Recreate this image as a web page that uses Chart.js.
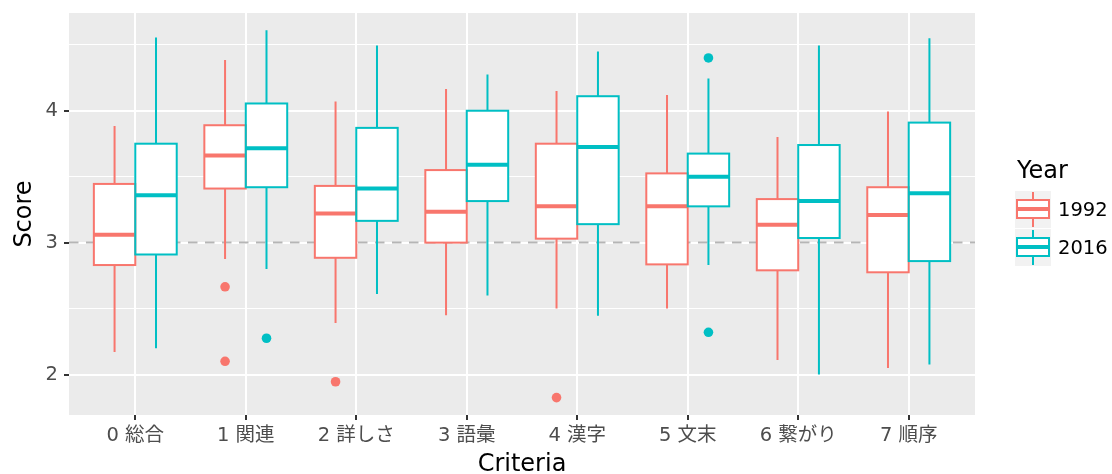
<!DOCTYPE html>
<html><head><meta charset="utf-8">
<script src="https://cdn.jsdelivr.net/npm/chart.js@4/dist/chart.umd.min.js"></script>
<style>
html,body{margin:0;padding:0;background:#fff;overflow:hidden;}
#wrap{position:relative;width:1112px;height:474px;}
canvas{position:absolute;left:0;top:0;}
.lg{position:absolute;font-family:"DejaVu Sans","Noto Sans CJK JP",sans-serif;color:#000;white-space:nowrap;}
.key{position:absolute;width:36px;height:37px;background:#F2F2F2;}
.key .wh{position:absolute;left:17px;top:1px;width:2px;height:35px;}
.key .bx{position:absolute;left:1px;top:8px;width:34px;height:20px;box-sizing:border-box;border:2px solid;background:#fff;}
.key .md{position:absolute;left:1px;top:16px;width:34px;height:4px;}
</style></head>
<body><div id="wrap"><canvas id="c" width="1112" height="474"></canvas>
<div class="lg" style="left:1017px;top:156px;font-size:24px;line-height:28px;">Year</div>
</div>
<script>
// ---- data ----
const categories = ['0 総合','1 関連','2 詳しさ','3 語彙','4 漢字','5 文末','6 繋がり','7 順序'];
const years = ['1992','2016'];
const colors = ['#F8766D','#00BFC4'];
const refLine = 3;
const yTicks = [2, 2.5, 3, 3.5, 4, 4.5];

const min1992 = [2.17, 2.875, 2.39, 2.45, 2.50, 2.50, 2.11, 2.05];
const q1_1992 = [2.83, 3.41, 2.885, 3.00, 3.03, 2.835, 2.79, 2.775];
const med1992 = [3.06, 3.66, 3.22, 3.235, 3.275, 3.275, 3.135, 3.21];
const q3_1992 = [3.445, 3.89, 3.43, 3.55, 3.75, 3.525, 3.33, 3.42];
const max1992 = [3.885, 4.385, 4.07, 4.165, 4.15, 4.12, 3.80, 3.995];
const out1992 = [[], [2.665, 2.10], [1.945], [], [1.825], [], [], []];

const min2016 = [2.20, 2.80, 2.61, 2.60, 2.445, 2.83, 2.00, 2.075];
const q1_2016 = [2.91, 3.42, 3.165, 3.315, 3.14, 3.275, 3.035, 2.86];
const med2016 = [3.36, 3.715, 3.41, 3.59, 3.725, 3.50, 3.315, 3.375];
const q3_2016 = [3.75, 4.055, 3.87, 4.00, 4.11, 3.675, 3.74, 3.91];
const max2016 = [4.555, 4.61, 4.495, 4.275, 4.45, 4.245, 4.495, 4.55];
const out2016 = [[], [2.275], [], [], [], [4.40, 2.32], [], []];

const stats = [
  {min:min1992, q1:q1_1992, med:med1992, q3:q3_1992, max:max1992, out:out1992},
  {min:min2016, q1:q1_2016, med:med2016, q3:q3_2016, max:max2016, out:out2016}
];

// ---- legend (HTML) ----
const wrap = document.getElementById('wrap');
years.forEach((yr, d) => {
  const top = 191 + d * 38;
  const k = document.createElement('div');
  k.className = 'key';
  k.style.left = '1015px'; k.style.top = top + 'px';
  k.innerHTML = '<div class="wh" style="background:'+colors[d]+'"></div>'+
                '<div class="bx" style="border-color:'+colors[d]+'"></div>'+
                '<div class="md" style="background:'+colors[d]+'"></div>';
  wrap.appendChild(k);
  const t = document.createElement('div');
  t.className = 'lg';
  t.style.cssText = 'left:1058px;top:'+top+'px;font-size:19.5px;line-height:37px;';
  t.textContent = yr;
  wrap.appendChild(t);
});

// ---- chart ----
const FONT = '"DejaVu Sans","Noto Sans CJK JP",sans-serif';
const dodgeWidth = 0.75;
const halfOffset = dodgeWidth / 4;

const datasets = years.map((yr, d) => ({
  type: 'bar',
  label: yr,
  data: categories.map((c, i) => ({x: i, y: [stats[d].q1[i], stats[d].q3[i]]})),
  backgroundColor: '#FFFFFF',
  borderWidth: 0,
  borderSkipped: false,
  categoryPercentage: dodgeWidth,
  barPercentage: 1
}));
years.forEach((yr, d) => {
  const pts = [];
  stats[d].out.forEach((arr, i) => arr.forEach(v => pts.push({x: i + (d === 0 ? -halfOffset : halfOffset), y: v})));
  datasets.push({
    type: 'scatter',
    label: yr + ' outliers',
    data: pts,
    backgroundColor: colors[d],
    borderWidth: 0,
    pointRadius: 4.8,
    showLine: false
  });
});

const boxPlugin = {
  id: 'boxplot',
  beforeDraw(chart) {
    const {ctx, chartArea: a} = chart;
    ctx.save();
    ctx.fillStyle = '#EBEBEB';
    ctx.fillRect(a.left, a.top, a.right - a.left, a.bottom - a.top);
    ctx.restore();
  },
  beforeDatasetsDraw(chart) {
    const {ctx, scales: {y}, chartArea: a} = chart;
    ctx.save();
    const yr = y.getPixelForValue(refLine);
    ctx.strokeStyle = '#B5B5B5';
    ctx.lineWidth = 2;
    ctx.setLineDash([9.5, 7.5]);
    ctx.beginPath(); ctx.moveTo(a.left, yr); ctx.lineTo(a.right, yr); ctx.stroke();
    ctx.setLineDash([]);
    stats.forEach((s, d) => {
      const meta = chart.getDatasetMeta(d);
      ctx.strokeStyle = colors[d];
      ctx.lineWidth = 2;
      meta.data.forEach((el, i) => {
        ctx.beginPath();
        ctx.moveTo(el.x, y.getPixelForValue(s.max[i])); ctx.lineTo(el.x, y.getPixelForValue(s.q3[i]));
        ctx.moveTo(el.x, y.getPixelForValue(s.q1[i])); ctx.lineTo(el.x, y.getPixelForValue(s.min[i]));
        ctx.stroke();
      });
    });
    ctx.restore();
  },
  afterDatasetsDraw(chart) {
    const {ctx, scales: {y}} = chart;
    ctx.save();
    stats.forEach((s, d) => {
      const meta = chart.getDatasetMeta(d);
      meta.data.forEach((el, i) => {
        const l = el.x - el.width / 2, r = el.x + el.width / 2;
        const t = y.getPixelForValue(s.q3[i]), b = y.getPixelForValue(s.q1[i]);
        ctx.strokeStyle = colors[d];
        ctx.lineWidth = 2;
        ctx.strokeRect(l, t, r - l, b - t);
        ctx.lineWidth = 4;
        const m = y.getPixelForValue(s.med[i]);
        ctx.beginPath(); ctx.moveTo(l, m); ctx.lineTo(r, m); ctx.stroke();
      });
    });
    ctx.restore();
  }
};

new Chart(document.getElementById('c'), {
  type: 'bar',
  data: {datasets},
  options: {
    responsive: false,
    animation: false,
    devicePixelRatio: 1,
    events: [],
    layout: {padding: {top: 13, right: 137, bottom: 0, left: 0}},
    plugins: {legend: {display: false}, tooltip: {enabled: false}},
    scales: {
      x: {
        type: 'linear',
        min: -0.6, max: 7.6,
        offset: false,
        afterBuildTicks: (axis) => { axis.ticks = categories.map((c, i) => ({value: i})); },
        afterFit: (scale) => { scale.height = 59; scale.paddingLeft = 0; scale.paddingRight = 0; },
        border: {display: false},
        grid: {color: '#FFFFFF', lineWidth: 2, offset: false, tickColor: '#333333', tickLength: 5, tickWidth: 2},
        ticks: {
          autoSkip: false, maxRotation: 0, padding: 4,
          color: '#4D4D4D', font: {family: FONT, size: 19.5},
          callback: (v) => categories[v] !== undefined ? categories[v] : ''
        },
        title: {display: true, text: 'Criteria', color: '#000000', font: {family: FONT, size: 24}, padding: {top: 0, bottom: -5}}
      },
      y: {
        type: 'linear',
        min: 1.693, max: 4.741,
        afterBuildTicks: (axis) => { axis.ticks = yTicks.map(v => ({value: v})); },
        afterFit: (scale) => { scale.width = 69; scale.paddingTop = 0; scale.paddingBottom = 0; },
        border: {display: false},
        grid: {
          color: '#FFFFFF',
          lineWidth: (c) => Number.isInteger(c.tick.value) ? 2 : 1,
          tickColor: (c) => Number.isInteger(c.tick.value) ? '#333333' : 'rgba(0,0,0,0)',
          tickLength: 5, tickWidth: 2
        },
        ticks: {
          padding: 6, color: '#4D4D4D', font: {family: FONT, size: 19.5},
          callback: (v) => Number.isInteger(v) ? String(v) : ''
        },
        title: {display: true, text: 'Score', color: '#000000', font: {family: FONT, size: 24}, padding: {top: 10, bottom: 0}}
      }
    }
  },
  plugins: [boxPlugin]
});
</script>
</body></html>
